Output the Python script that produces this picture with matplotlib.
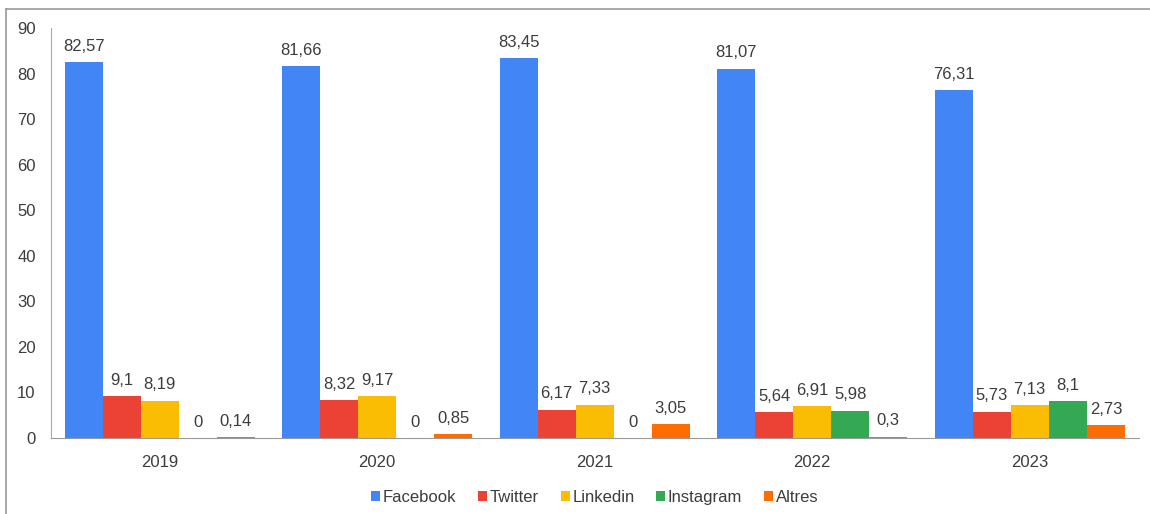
import matplotlib.pyplot as plt
import numpy as np
from matplotlib.lines import Line2D

plt.rcParams['font.family'] = ['Liberation Sans', 'DejaVu Sans']

years = ['2019', '2020', '2021', '2022', '2023']
series = ['Facebook', 'Twitter', 'Linkedin', 'Instagram', 'Altres']
facebook = [82.57, 81.66, 83.45, 81.07, 76.31]
twitter = [9.1, 8.32, 6.17, 5.64, 5.73]
linkedin = [8.19, 9.17, 7.33, 6.91, 7.13]
instagram = [0, 0, 0, 5.98, 8.1]
altres = [0.14, 0.85, 3.05, 0.3, 2.73]
colors = ['#4285F4', '#EA4335', '#FBBC04', '#34A853', '#FF6D01']

values = [facebook, twitter, linkedin, instagram, altres]

fig = plt.figure(figsize=(11.5, 5.14), dpi=100)
ax = fig.add_axes([0.0443, 0.148, 0.9457, 0.7975])

x = np.arange(len(years))
w = 0.175
for i, (name, vals, c) in enumerate(zip(series, values, colors)):
    pos = x + (i - 2) * w
    bars = ax.bar(pos, vals, w, color=c, label=name)
    for b, v in zip(bars, vals):
        ax.annotate(f"{v:g}".replace('.', ','), (b.get_x() + b.get_width() / 2, v),
                    xytext=(0, 6), textcoords='offset points',
                    ha='center', va='bottom', fontsize=12, color='#3c3c3c')

ax.set_xlim(-0.5, len(years) - 0.5)
ax.set_ylim(0, 90)
ax.set_yticks(range(0, 91, 10))
ax.set_xticks(x)
ax.set_xticklabels(years)
ax.tick_params(length=0, labelsize=12, colors='#3c3c3c')
ax.tick_params(axis='x', pad=12)
ax.tick_params(axis='y', pad=11)
for s in ['top', 'right']:
    ax.spines[s].set_visible(False)
ax.spines['left'].set_color('#aaaaaa')
ax.spines['bottom'].set_color('#999999')

ax.legend(loc='upper center', bbox_to_anchor=(0.5, -0.09), ncol=5, frameon=False,
          handlelength=0.55, handleheight=0.55, handletextpad=0.15, columnspacing=1.3,
          fontsize=12, labelcolor='#3c3c3c')

# image frame lines (top and left)
fig.add_artist(Line2D([6 / 1150, 1], [1 - 9 / 514, 1 - 9 / 514], color='#999999', lw=1.2))
fig.add_artist(Line2D([6 / 1150, 6 / 1150], [0, 1 - 9 / 514], color='#999999', lw=1.2))

plt.savefig('out.png')
